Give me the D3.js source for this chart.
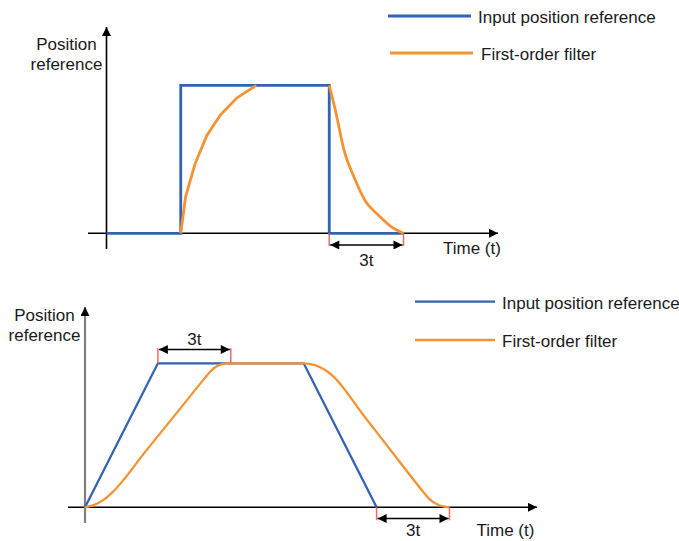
<!DOCTYPE html>
<html>
<head>
<meta charset="utf-8">
<script src="https://cdn.jsdelivr.net/npm/d3@7"></script>
<style>
  html, body { margin: 0; padding: 0; background: #fff; }
  svg { display: block; }
  text { font-family: "Liberation Sans", Arial, sans-serif; fill: #1a1a1a; }
</style>
</head>
<body>
<svg id="chart" width="679" height="541"></svg>
<script>
// ---------- data ----------
const legendLabels = ["Input position reference", "First-order filter"];
const yAxisLabel = ["Position", "reference"];
const xAxisLabel = "Time (t)";
const spanLabel = "3t";

// Top panel: step input and first-order filter response
const topInputT = [0, 3, 3, 9, 9, 12];
const topInputV = [0, 0, 1, 1, 0, 0];
const topRiseT = [3, 3.2, 3.58, 4.05, 4.6, 5.27, 6.05];
const topRiseV = [0, 0.25, 0.47, 0.66, 0.8, 0.915, 1];
const topFallT = [9, 9.25, 9.6, 10, 10.45, 11, 11.5, 12];
const topFallV = [1, 0.83, 0.56, 0.38, 0.22, 0.12, 0.045, 0];
const topSpan = [9, 12];

// Bottom panel: trapezoid input and filtered response
const botInputT = [0, 3, 9, 12];
const botInputV = [0, 1, 1, 0];
const botFilterT = [0, 0.35, 0.75, 1.16, 2.5, 3.7, 4.87, 5.14, 5.42, 5.83, 6, 9, 9.47, 9.88, 10.18, 11.5, 12.7, 13.88, 14.15, 14.55, 15];
const botFilterV = [0, 0.015, 0.05, 0.11, 0.39, 0.64, 0.885, 0.94, 0.98, 1, 1, 1, 0.988, 0.953, 0.915, 0.63, 0.37, 0.115, 0.06, 0.016, 0];
const botSpanTop = [3, 6];
const botSpanBottom = [12, 15];

// ---------- styles ----------
const BLUE = "#3363b3";
const ORANGE = "#f49334";
const RED = "#f06a6a";

const svg = d3.select("#chart");
const defs = svg.append("defs");
defs.append("marker").attr("id", "axisArrow")
  .attr("viewBox", "0 0 10 10").attr("refX", 10).attr("refY", 5)
  .attr("markerWidth", 11).attr("markerHeight", 9).attr("markerUnits", "userSpaceOnUse")
  .attr("orient", "auto")
  .append("path").attr("d", "M0,0 L10,5 L0,10 Z").attr("fill", "#000");
defs.append("marker").attr("id", "spanArrow")
  .attr("viewBox", "0 0 10 10").attr("refX", 10).attr("refY", 5)
  .attr("markerWidth", 10).attr("markerHeight", 9).attr("markerUnits", "userSpaceOnUse")
  .attr("orient", "auto-start-reverse")
  .append("path").attr("d", "M0,0 L10,5 L0,10 Z").attr("fill", "#000");

function zip(ts, vs) { return ts.map((t, i) => [t, vs[i]]); }

function drawPanel(cfg) {
  const g = svg.append("g");
  const x = d3.scaleLinear().domain(cfg.xDomain).range(cfg.xRange);
  const y = d3.scaleLinear().domain([0, 1]).range(cfg.yRange);

  // axes
  g.append("line")
    .attr("x1", cfg.xAxisFrom).attr("x2", cfg.xAxisTo)
    .attr("y1", y(0)).attr("y2", y(0))
    .attr("stroke", "#000").attr("stroke-width", 1.6)
    .attr("marker-end", "url(#axisArrow)");
  g.append("line")
    .attr("x1", x(0)).attr("x2", x(0))
    .attr("y1", cfg.yAxisFrom).attr("y2", cfg.yAxisTo)
    .attr("stroke", cfg.yAxisColor).attr("stroke-width", cfg.yAxisWidth)
    .attr("marker-end", "url(#axisArrow)");

  const line = d3.line().x(d => x(d[0])).y(d => y(d[1]));

  // input reference
  g.append("path").datum(cfg.input)
    .attr("d", line.curve(d3.curveLinear)).attr("fill", "none")
    .attr("stroke", BLUE).attr("stroke-width", cfg.lineWidth)
    .attr("stroke-linejoin", "miter");

  // filter
  cfg.filters.forEach(f => {
    g.append("path").datum(f.data)
      .attr("d", line.curve(f.curve)).attr("fill", "none")
      .attr("stroke", ORANGE).attr("stroke-width", cfg.lineWidth)
      .attr("stroke-linejoin", "round");
  });

  // spans
  cfg.spans.forEach(s => {
    [s.t[0], s.t[1]].forEach(t => {
      g.append("line")
        .attr("x1", x(t)).attr("x2", x(t))
        .attr("y1", y(s.tickV[0])).attr("y2", y(s.tickV[1]))
        .attr("stroke", RED).attr("stroke-width", 1.5);
    });
    g.append("line")
      .attr("x1", x(s.t[0]) + 1).attr("x2", x(s.t[1]) - 1)
      .attr("y1", y(s.arrowV)).attr("y2", y(s.arrowV))
      .attr("stroke", "#000").attr("stroke-width", 1.5)
      .attr("marker-start", "url(#spanArrow)")
      .attr("marker-end", "url(#spanArrow)");
    g.append("text")
      .attr("x", x((s.t[0] + s.t[1]) / 2)).attr("y", s.labelY)
      .attr("text-anchor", "middle").attr("font-size", 17)
      .text(spanLabel);
  });

  // axis labels
  g.append("text").attr("x", cfg.timeX).attr("y", cfg.timeY)
    .attr("font-size", 17).text(xAxisLabel);
  yAxisLabel.forEach((s, i) => {
    g.append("text").attr("x", cfg.posX).attr("y", cfg.posY + i * 20)
      .attr("text-anchor", "middle").attr("font-size", 17).text(s);
  });

  // legend
  const colors = [BLUE, ORANGE];
  legendLabels.forEach((lab, i) => {
    const L = cfg.legend[i];
    g.append("line").attr("x1", L.x1).attr("x2", L.x2).attr("y1", L.y).attr("y2", L.y)
      .attr("stroke", colors[i]).attr("stroke-width", cfg.legendWidth);
    g.append("text").attr("x", L.tx).attr("y", L.y + 7).attr("font-size", 17).text(lab);
  });
}

drawPanel({
  xDomain: [0, 12], xRange: [106.5, 403.5], yRange: [233.3, 85.3],
  xAxisFrom: 88, xAxisTo: 498, yAxisFrom: 249, yAxisTo: 27,
  yAxisColor: "#000", yAxisWidth: 1.6, lineWidth: 2.8, legendWidth: 2.8,
  input: zip(topInputT, topInputV),
  filters: [
    { data: zip(topRiseT, topRiseV), curve: d3.curveLinear },
    { data: zip(topFallT, topFallV), curve: d3.curveMonotoneX }
  ],
  spans: [{ t: topSpan, tickV: [0, -0.085], arrowV: -0.079, labelY: 266 }],
  timeX: 443, timeY: 254,
  posX: 66.5, posY: 49.5,
  legend: [{ x1: 388, x2: 471, y: 16, tx: 478 }, { x1: 390, x2: 473, y: 53, tx: 481 }]
});

drawPanel({
  xDomain: [0, 15], xRange: [85, 449.5], yRange: [507.3, 363.3],
  xAxisFrom: 68, xAxisTo: 537, yAxisFrom: 523, yAxisTo: 307,
  yAxisColor: "#808080", yAxisWidth: 2.2, lineWidth: 2.3, legendWidth: 2.3,
  input: zip(botInputT, botInputV),
  filters: [{ data: zip(botFilterT, botFilterV), curve: d3.curveMonotoneX }],
  spans: [
    { t: botSpanTop, tickV: [1.105, 1], arrowV: 1.096, labelY: 345 },
    { t: botSpanBottom, tickV: [0, -0.09], arrowV: -0.078, labelY: 536 }
  ],
  timeX: 476.5, timeY: 536,
  posX: 44.5, posY: 321,
  legend: [{ x1: 415, x2: 495, y: 301.7, tx: 502 }, { x1: 415, x2: 495, y: 340, tx: 502 }]
});
</script>
</body>
</html>
